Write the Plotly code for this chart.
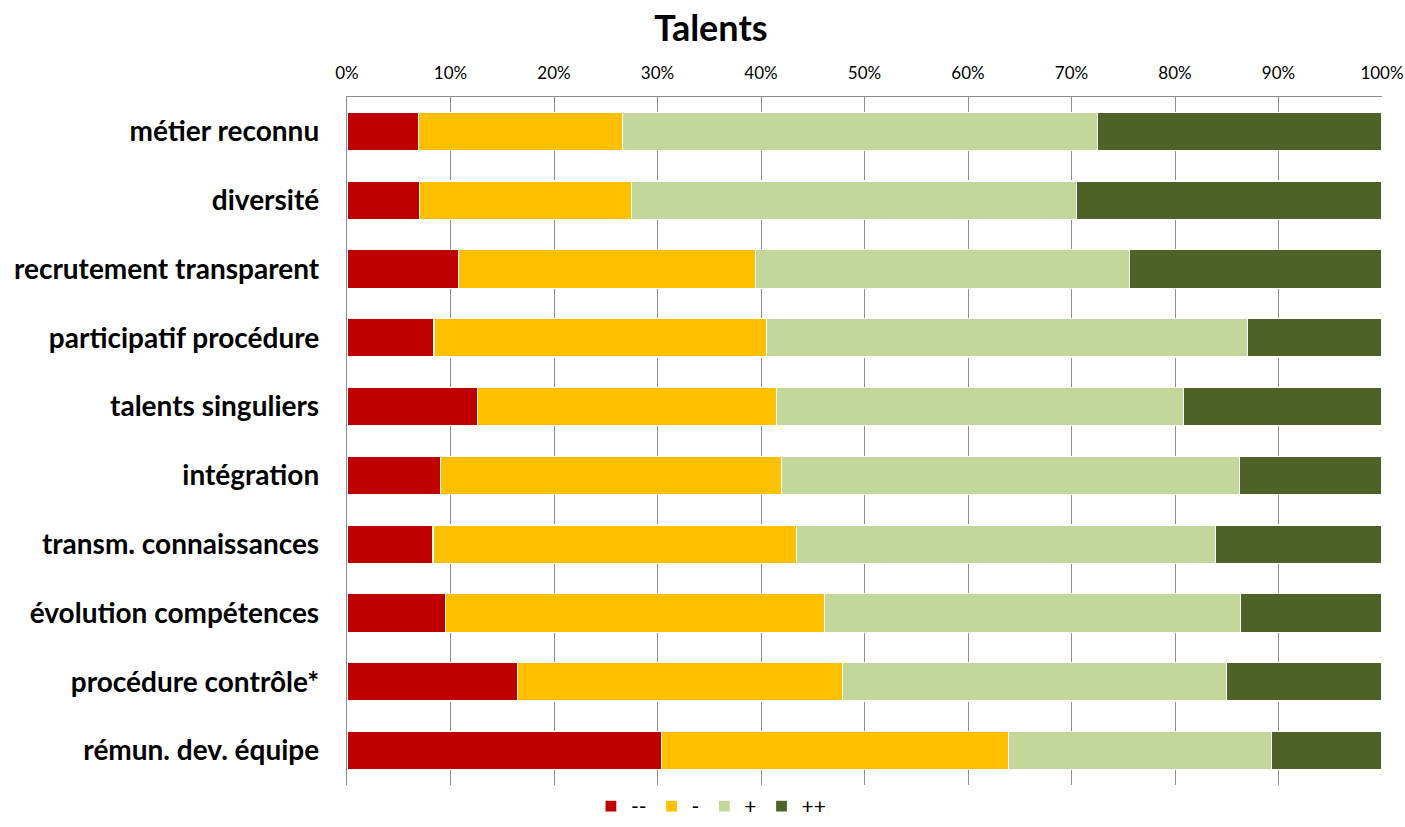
import plotly.graph_objects as go

# Survey items, top to bottom
categories = [
    "métier reconnu",
    "diversité",
    "recrutement transparent",
    "participatif procédure",
    "talents singuliers",
    "intégration",
    "transm. connaissances",
    "évolution compétences",
    "procédure contrôle*",
    "rémun. dev. équipe",
]

# Share of answers per rating (percent of respondents)
very_negative = [6.9, 7.0, 10.8, 8.4, 12.6, 9.0, 8.3, 9.5, 16.5, 30.4]
negative = [19.7, 20.5, 28.7, 32.1, 28.9, 33.0, 35.1, 36.6, 31.4, 33.5]
positive = [45.9, 43.0, 36.1, 46.5, 39.3, 44.2, 40.5, 40.2, 37.1, 25.4]
very_positive = [27.5, 29.5, 24.4, 13.0, 19.2, 13.8, 16.1, 13.7, 15.0, 10.7]

series_names = ["--", "-", "+", "++"]
series_values = [very_negative, negative, positive, very_positive]
series_colors = ["#C00000", "#FFC000", "#C4D79B", "#4F6228"]

tick_values = [0, 10, 20, 30, 40, 50, 60, 70, 80, 90, 100]
tick_labels = [f"{v}%" for v in tick_values]

fig = go.Figure()
for name, vals, color in zip(series_names, series_values, series_colors):
    fig.add_trace(go.Bar(
        y=categories,
        x=vals,
        name=name,
        orientation="h",
        marker=dict(color=color, line=dict(color="white", width=1.2)),
        hovertemplate="%{y}: %{x:.1f}%<extra>" + name + "</extra>",
    ))

fig.update_layout(
    barmode="stack",
    bargap=0.44,
    width=1405,
    height=827,
    paper_bgcolor="white",
    plot_bgcolor="white",
    margin=dict(l=347, r=23, t=97, b=42, autoexpand=False),
    title=dict(
        text="<b>Talents</b>",
        x=0.506,
        xanchor="center",
        y=0.966,
        yanchor="middle",
        font=dict(family="Lato, Open Sans, sans-serif", size=36, color="black"),
    ),
    font=dict(family="Lato, Open Sans, sans-serif", color="black"),
    legend=dict(
        orientation="h",
        xref="container",
        x=0.506,
        xanchor="center",
        yref="container",
        y=0.0,
        yanchor="bottom",
        font=dict(size=21, color="black"),
        itemwidth=30,
        traceorder="normal",
    ),
    showlegend=True,
)

fig.update_xaxes(
    range=[0, 100],
    side="top",
    tickvals=tick_values,
    ticktext=tick_labels,
    tickfont=dict(size=17, color="black"),
    ticks="",
    ticklabelstandoff=10,
    showgrid=True,
    gridcolor="#8C8C8C",
    gridwidth=1.4,
    showline=True,
    linecolor="#8C8C8C",
    linewidth=1.4,
    zeroline=False,
    automargin=False,
    fixedrange=True,
)

fig.update_yaxes(
    autorange="reversed",
    tickfont=dict(size=28, color="black", weight="bold"),
    ticks="",
    ticklabelstandoff=21,
    showgrid=False,
    showline=True,
    linecolor="#8C8C8C",
    linewidth=1.4,
    zeroline=False,
    automargin=False,
    fixedrange=True,
)

fig.write_html("out.html")
